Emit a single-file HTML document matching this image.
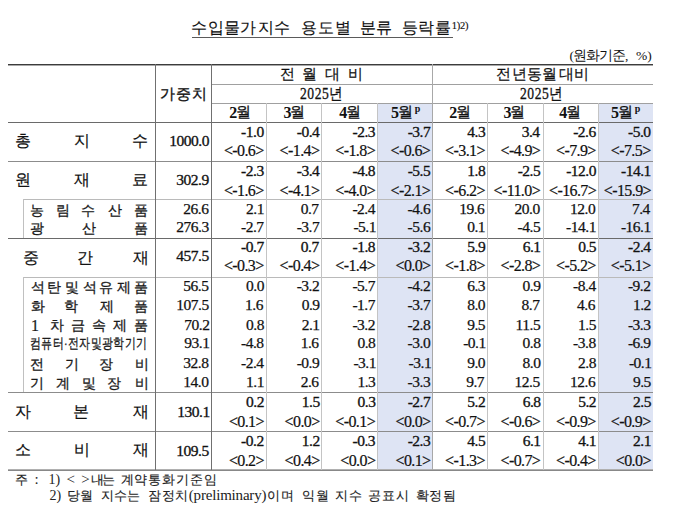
<!DOCTYPE html>
<html lang="ko"><head><meta charset="utf-8">
<style>
html,body{margin:0;padding:0;background:#fff;}
body{width:680px;height:512px;overflow:hidden;position:relative;}
</style></head><body>
<div style="position:absolute;left:377px;top:103px;width:55px;height:367px;background:#dee4f4"></div>
<div style="position:absolute;left:598px;top:103px;width:55px;height:367px;background:#dee4f4"></div>
<div style="position:absolute;left:192px;top:37px;width:261px;height:1px;background:#5a5a5a"></div>
<div style="position:absolute;left:8px;top:64px;width:645px;height:1px;background:#3c3c3c"></div>
<div style="position:absolute;left:8px;top:65px;width:645px;height:1px;background:#a8a8a8"></div>
<div style="position:absolute;left:212px;top:84px;width:441px;height:1px;background:#a0a0a0"></div>
<div style="position:absolute;left:212px;top:103px;width:441px;height:1px;background:#a0a0a0"></div>
<div style="position:absolute;left:8px;top:122px;width:645px;height:1px;background:#6a6a6a"></div>
<div style="position:absolute;left:8px;top:161px;width:645px;height:1px;background:#8c8c8c"></div>
<div style="position:absolute;left:23px;top:199px;width:630px;height:1px;background:#bababa"></div>
<div style="position:absolute;left:8px;top:238px;width:645px;height:1px;background:#6a6a6a"></div>
<div style="position:absolute;left:23px;top:277px;width:630px;height:1px;background:#bababa"></div>
<div style="position:absolute;left:8px;top:392px;width:645px;height:1px;background:#8c8c8c"></div>
<div style="position:absolute;left:8px;top:431px;width:645px;height:1px;background:#8c8c8c"></div>
<div style="position:absolute;left:8px;top:469px;width:645px;height:1px;background:#b0b0b0"></div>
<div style="position:absolute;left:8px;top:470px;width:645px;height:1px;background:#888888"></div>
<div style="position:absolute;left:155px;top:64px;width:1px;height:406px;background:#707070"></div>
<div style="position:absolute;left:211px;top:64px;width:1px;height:406px;background:#707070"></div>
<div style="position:absolute;left:432px;top:64px;width:1px;height:406px;background:#a8a8a8"></div>
<div style="position:absolute;left:266px;top:103px;width:1px;height:367px;background:#c4c4c4"></div>
<div style="position:absolute;left:321px;top:103px;width:1px;height:367px;background:#c4c4c4"></div>
<div style="position:absolute;left:377px;top:103px;width:1px;height:367px;background:#c4c4c4"></div>
<div style="position:absolute;left:487px;top:103px;width:1px;height:367px;background:#c4c4c4"></div>
<div style="position:absolute;left:543px;top:103px;width:1px;height:367px;background:#c4c4c4"></div>
<div style="position:absolute;left:598px;top:103px;width:1px;height:367px;background:#c4c4c4"></div>
<div style="position:absolute;left:23px;top:199px;width:1px;height:39px;background:#c0c0c0"></div>
<div style="position:absolute;left:23px;top:277px;width:1px;height:115px;background:#c0c0c0"></div>
<div style='position:absolute;white-space:nowrap;line-height:1;font-family:"Liberation Serif",serif;left:191.30px;top:20.30px;font-size:16px;color:#111;-webkit-text-stroke:0.15px #111;'>수</div>
<div style='position:absolute;white-space:nowrap;line-height:1;font-family:"Liberation Serif",serif;left:208.38px;top:20.30px;font-size:16px;color:#111;-webkit-text-stroke:0.15px #111;'>입</div>
<div style='position:absolute;white-space:nowrap;line-height:1;font-family:"Liberation Serif",serif;left:224.26px;top:20.30px;font-size:16px;color:#111;-webkit-text-stroke:0.15px #111;'>물</div>
<div style='position:absolute;white-space:nowrap;line-height:1;font-family:"Liberation Serif",serif;left:240.14px;top:20.30px;font-size:16px;color:#111;-webkit-text-stroke:0.15px #111;'>가</div>
<div style='position:absolute;white-space:nowrap;line-height:1;font-family:"Liberation Serif",serif;left:257.52px;top:20.30px;font-size:16px;color:#111;-webkit-text-stroke:0.15px #111;'>지</div>
<div style='position:absolute;white-space:nowrap;line-height:1;font-family:"Liberation Serif",serif;left:273.60px;top:20.30px;font-size:16px;color:#111;-webkit-text-stroke:0.15px #111;'>수</div>
<div style='position:absolute;white-space:nowrap;line-height:1;font-family:"Liberation Serif",serif;left:301.30px;top:20.30px;font-size:16px;color:#111;-webkit-text-stroke:0.15px #111;'>용</div>
<div style='position:absolute;white-space:nowrap;line-height:1;font-family:"Liberation Serif",serif;left:317.75px;top:20.30px;font-size:16px;color:#111;-webkit-text-stroke:0.15px #111;'>도</div>
<div style='position:absolute;white-space:nowrap;line-height:1;font-family:"Liberation Serif",serif;left:335.20px;top:20.30px;font-size:16px;color:#111;-webkit-text-stroke:0.15px #111;'>별</div>
<div style='position:absolute;white-space:nowrap;line-height:1;font-family:"Liberation Serif",serif;left:359.50px;top:20.30px;font-size:16px;color:#111;-webkit-text-stroke:0.15px #111;'>분</div>
<div style='position:absolute;white-space:nowrap;line-height:1;font-family:"Liberation Serif",serif;left:375.50px;top:20.30px;font-size:16px;color:#111;-webkit-text-stroke:0.15px #111;'>류</div>
<div style='position:absolute;white-space:nowrap;line-height:1;font-family:"Liberation Serif",serif;left:402.20px;top:20.30px;font-size:16px;color:#111;-webkit-text-stroke:0.15px #111;'>등</div>
<div style='position:absolute;white-space:nowrap;line-height:1;font-family:"Liberation Serif",serif;left:418.25px;top:20.30px;font-size:16px;color:#111;-webkit-text-stroke:0.15px #111;'>락</div>
<div style='position:absolute;white-space:nowrap;line-height:1;font-family:"Liberation Serif",serif;left:435.30px;top:20.30px;font-size:16px;color:#111;-webkit-text-stroke:0.15px #111;'>률</div>
<div style='position:absolute;white-space:nowrap;line-height:1;font-family:"Liberation Serif",serif;left:451.80px;top:21.20px;font-size:10.5px;color:#111;-webkit-text-stroke:0.15px #111;letter-spacing:-0.267px;'>1)2)</div>
<div style='position:absolute;white-space:nowrap;line-height:1;font-family:"Liberation Serif",serif;left:569.60px;top:49.00px;font-size:13.5px;color:#111;letter-spacing:-1.000px;'>(원화기준,</div>
<div style='position:absolute;white-space:nowrap;line-height:1;font-family:"Liberation Serif",serif;left:635.90px;top:49.00px;font-size:13.5px;color:#111;'>%)</div>
<div style='position:absolute;white-space:nowrap;line-height:1;font-family:"Liberation Serif",serif;left:159.60px;top:86.70px;font-size:15px;letter-spacing:1px;color:#111;-webkit-text-stroke:0.35px #111;'>가중치</div>
<div style='position:absolute;white-space:nowrap;line-height:1;font-family:"Liberation Serif",serif;left:280.30px;top:66.80px;font-size:15px;color:#111;-webkit-text-stroke:0.2px #111;'>전</div>
<div style='position:absolute;white-space:nowrap;line-height:1;font-family:"Liberation Serif",serif;left:302.48px;top:66.80px;font-size:15px;color:#111;-webkit-text-stroke:0.2px #111;'>월</div>
<div style='position:absolute;white-space:nowrap;line-height:1;font-family:"Liberation Serif",serif;left:325.42px;top:66.80px;font-size:15px;color:#111;-webkit-text-stroke:0.2px #111;'>대</div>
<div style='position:absolute;white-space:nowrap;line-height:1;font-family:"Liberation Serif",serif;left:347.60px;top:66.80px;font-size:15px;color:#111;-webkit-text-stroke:0.2px #111;'>비</div>
<div style='position:absolute;white-space:nowrap;line-height:1;font-family:"Liberation Serif",serif;left:496.30px;top:66.80px;font-size:15px;color:#111;-webkit-text-stroke:0.2px #111;'>전</div>
<div style='position:absolute;white-space:nowrap;line-height:1;font-family:"Liberation Serif",serif;left:511.79px;top:66.80px;font-size:15px;color:#111;-webkit-text-stroke:0.2px #111;'>년</div>
<div style='position:absolute;white-space:nowrap;line-height:1;font-family:"Liberation Serif",serif;left:527.03px;top:66.80px;font-size:15px;color:#111;-webkit-text-stroke:0.2px #111;'>동</div>
<div style='position:absolute;white-space:nowrap;line-height:1;font-family:"Liberation Serif",serif;left:542.27px;top:66.80px;font-size:15px;color:#111;-webkit-text-stroke:0.2px #111;'>월</div>
<div style='position:absolute;white-space:nowrap;line-height:1;font-family:"Liberation Serif",serif;left:558.51px;top:66.80px;font-size:15px;color:#111;-webkit-text-stroke:0.2px #111;'>대</div>
<div style='position:absolute;white-space:nowrap;line-height:1;font-family:"Liberation Serif",serif;left:574.00px;top:66.80px;font-size:15px;color:#111;-webkit-text-stroke:0.2px #111;'>비</div>
<div style='position:absolute;white-space:nowrap;line-height:1;font-family:"Liberation Serif",serif;left:300.00px;top:85.60px;font-size:16px;color:#111;-webkit-text-stroke:0.3px #111;transform:scaleX(0.85);transform-origin:0 0;letter-spacing:0.647px;'>2025년</div>
<div style='position:absolute;white-space:nowrap;line-height:1;font-family:"Liberation Serif",serif;left:520.00px;top:85.60px;font-size:16px;color:#111;-webkit-text-stroke:0.3px #111;transform:scaleX(0.85);transform-origin:0 0;letter-spacing:0.647px;'>2025년</div>
<div style='position:absolute;white-space:nowrap;line-height:1;font-family:"Liberation Serif",serif;left:229.30px;top:105.10px;font-size:16px;font-weight:bold;color:#111;'>2</div>
<div style='position:absolute;white-space:nowrap;line-height:1;font-family:"Liberation Serif",serif;left:235.70px;top:105.10px;font-size:14.5px;color:#111;-webkit-text-stroke:0.3px #111;'>월</div>
<div style='position:absolute;white-space:nowrap;line-height:1;font-family:"Liberation Serif",serif;left:283.50px;top:105.10px;font-size:16px;font-weight:bold;color:#111;'>3</div>
<div style='position:absolute;white-space:nowrap;line-height:1;font-family:"Liberation Serif",serif;left:289.90px;top:105.10px;font-size:14.5px;color:#111;-webkit-text-stroke:0.3px #111;'>월</div>
<div style='position:absolute;white-space:nowrap;line-height:1;font-family:"Liberation Serif",serif;left:339.30px;top:105.10px;font-size:16px;font-weight:bold;color:#111;'>4</div>
<div style='position:absolute;white-space:nowrap;line-height:1;font-family:"Liberation Serif",serif;left:345.70px;top:105.10px;font-size:14.5px;color:#111;-webkit-text-stroke:0.3px #111;'>월</div>
<div style='position:absolute;white-space:nowrap;line-height:1;font-family:"Liberation Serif",serif;left:391.10px;top:105.10px;font-size:16px;font-weight:bold;color:#111;'>5</div>
<div style='position:absolute;white-space:nowrap;line-height:1;font-family:"Liberation Serif",serif;left:397.50px;top:105.10px;font-size:14.5px;color:#111;-webkit-text-stroke:0.3px #111;'>월</div>
<div style='position:absolute;white-space:nowrap;line-height:1;font-family:"Liberation Serif",serif;left:449.30px;top:105.10px;font-size:16px;font-weight:bold;color:#111;'>2</div>
<div style='position:absolute;white-space:nowrap;line-height:1;font-family:"Liberation Serif",serif;left:455.70px;top:105.10px;font-size:14.5px;color:#111;-webkit-text-stroke:0.3px #111;'>월</div>
<div style='position:absolute;white-space:nowrap;line-height:1;font-family:"Liberation Serif",serif;left:503.50px;top:105.10px;font-size:16px;font-weight:bold;color:#111;'>3</div>
<div style='position:absolute;white-space:nowrap;line-height:1;font-family:"Liberation Serif",serif;left:509.90px;top:105.10px;font-size:14.5px;color:#111;-webkit-text-stroke:0.3px #111;'>월</div>
<div style='position:absolute;white-space:nowrap;line-height:1;font-family:"Liberation Serif",serif;left:559.30px;top:105.10px;font-size:16px;font-weight:bold;color:#111;'>4</div>
<div style='position:absolute;white-space:nowrap;line-height:1;font-family:"Liberation Serif",serif;left:565.70px;top:105.10px;font-size:14.5px;color:#111;-webkit-text-stroke:0.3px #111;'>월</div>
<div style='position:absolute;white-space:nowrap;line-height:1;font-family:"Liberation Serif",serif;left:611.10px;top:105.10px;font-size:16px;font-weight:bold;color:#111;'>5</div>
<div style='position:absolute;white-space:nowrap;line-height:1;font-family:"Liberation Serif",serif;left:617.50px;top:105.10px;font-size:14.5px;color:#111;-webkit-text-stroke:0.3px #111;'>월</div>
<div style='position:absolute;white-space:nowrap;line-height:1;font-family:"Liberation Serif",serif;left:414.80px;top:104.40px;font-size:10px;font-weight:bold;color:#111;'>p</div>
<div style='position:absolute;white-space:nowrap;line-height:1;font-family:"Liberation Serif",serif;left:634.80px;top:104.40px;font-size:10px;font-weight:bold;color:#111;'>p</div>
<div style='position:absolute;white-space:nowrap;line-height:1;font-family:"Liberation Serif",serif;left:15.00px;top:133.00px;font-size:15.5px;color:#111;-webkit-text-stroke:0.2px #111;'>총</div>
<div style='position:absolute;white-space:nowrap;line-height:1;font-family:"Liberation Serif",serif;left:73.75px;top:133.00px;font-size:15.5px;color:#111;-webkit-text-stroke:0.2px #111;'>지</div>
<div style='position:absolute;white-space:nowrap;line-height:1;font-family:"Liberation Serif",serif;left:131.50px;top:133.00px;font-size:15.5px;color:#111;-webkit-text-stroke:0.2px #111;'>수</div>
<div style='position:absolute;white-space:nowrap;line-height:1;font-family:"Liberation Serif",serif;left:169.30px;top:133.30px;font-size:15.5px;letter-spacing:-0.5px;color:#111;-webkit-text-stroke:0.32px #111;'>1000.0</div>
<div style='position:absolute;white-space:nowrap;line-height:1;font-family:"Liberation Serif",serif;left:241.10px;top:124.20px;font-size:15.5px;letter-spacing:-0.5px;color:#111;-webkit-text-stroke:0.32px #111;'>-1.0</div>
<div style='position:absolute;white-space:nowrap;line-height:1;font-family:"Liberation Serif",serif;left:223.90px;top:142.80px;font-size:16px;letter-spacing:-0.6px;color:#111;-webkit-text-stroke:0.2px #111;'>&lt;-0.6&gt;</div>
<div style='position:absolute;white-space:nowrap;line-height:1;font-family:"Liberation Serif",serif;left:296.80px;top:124.20px;font-size:15.5px;letter-spacing:-0.5px;color:#111;-webkit-text-stroke:0.32px #111;'>-0.4</div>
<div style='position:absolute;white-space:nowrap;line-height:1;font-family:"Liberation Serif",serif;left:279.60px;top:142.80px;font-size:16px;letter-spacing:-0.6px;color:#111;-webkit-text-stroke:0.2px #111;'>&lt;-1.4&gt;</div>
<div style='position:absolute;white-space:nowrap;line-height:1;font-family:"Liberation Serif",serif;left:352.50px;top:124.20px;font-size:15.5px;letter-spacing:-0.5px;color:#111;-webkit-text-stroke:0.32px #111;'>-2.3</div>
<div style='position:absolute;white-space:nowrap;line-height:1;font-family:"Liberation Serif",serif;left:335.30px;top:142.80px;font-size:16px;letter-spacing:-0.6px;color:#111;-webkit-text-stroke:0.2px #111;'>&lt;-1.8&gt;</div>
<div style='position:absolute;white-space:nowrap;line-height:1;font-family:"Liberation Serif",serif;left:407.70px;top:124.20px;font-size:15.5px;letter-spacing:-0.5px;color:#111;-webkit-text-stroke:0.32px #111;'>-3.7</div>
<div style='position:absolute;white-space:nowrap;line-height:1;font-family:"Liberation Serif",serif;left:390.50px;top:142.80px;font-size:16px;letter-spacing:-0.6px;color:#111;-webkit-text-stroke:0.2px #111;'>&lt;-0.6&gt;</div>
<div style='position:absolute;white-space:nowrap;line-height:1;font-family:"Liberation Serif",serif;left:467.30px;top:124.20px;font-size:15.5px;letter-spacing:-0.5px;color:#111;-webkit-text-stroke:0.32px #111;'>4.3</div>
<div style='position:absolute;white-space:nowrap;line-height:1;font-family:"Liberation Serif",serif;left:445.10px;top:142.80px;font-size:16px;letter-spacing:-0.6px;color:#111;-webkit-text-stroke:0.2px #111;'>&lt;-3.1&gt;</div>
<div style='position:absolute;white-space:nowrap;line-height:1;font-family:"Liberation Serif",serif;left:521.70px;top:124.20px;font-size:15.5px;letter-spacing:-0.5px;color:#111;-webkit-text-stroke:0.32px #111;'>3.4</div>
<div style='position:absolute;white-space:nowrap;line-height:1;font-family:"Liberation Serif",serif;left:500.50px;top:142.80px;font-size:16px;letter-spacing:-0.6px;color:#111;-webkit-text-stroke:0.2px #111;'>&lt;-4.9&gt;</div>
<div style='position:absolute;white-space:nowrap;line-height:1;font-family:"Liberation Serif",serif;left:573.20px;top:124.20px;font-size:15.5px;letter-spacing:-0.5px;color:#111;-webkit-text-stroke:0.32px #111;'>-2.6</div>
<div style='position:absolute;white-space:nowrap;line-height:1;font-family:"Liberation Serif",serif;left:556.00px;top:142.80px;font-size:16px;letter-spacing:-0.6px;color:#111;-webkit-text-stroke:0.2px #111;'>&lt;-7.9&gt;</div>
<div style='position:absolute;white-space:nowrap;line-height:1;font-family:"Liberation Serif",serif;left:628.00px;top:124.20px;font-size:15.5px;letter-spacing:-0.5px;color:#111;-webkit-text-stroke:0.32px #111;'>-5.0</div>
<div style='position:absolute;white-space:nowrap;line-height:1;font-family:"Liberation Serif",serif;left:610.80px;top:142.80px;font-size:16px;letter-spacing:-0.6px;color:#111;-webkit-text-stroke:0.2px #111;'>&lt;-7.5&gt;</div>
<div style='position:absolute;white-space:nowrap;line-height:1;font-family:"Liberation Serif",serif;left:15.00px;top:171.50px;font-size:15.5px;color:#111;-webkit-text-stroke:0.2px #111;'>원</div>
<div style='position:absolute;white-space:nowrap;line-height:1;font-family:"Liberation Serif",serif;left:74.25px;top:171.50px;font-size:15.5px;color:#111;-webkit-text-stroke:0.2px #111;'>재</div>
<div style='position:absolute;white-space:nowrap;line-height:1;font-family:"Liberation Serif",serif;left:131.50px;top:171.50px;font-size:15.5px;color:#111;-webkit-text-stroke:0.2px #111;'>료</div>
<div style='position:absolute;white-space:nowrap;line-height:1;font-family:"Liberation Serif",serif;left:176.30px;top:172.30px;font-size:15.5px;letter-spacing:-0.5px;color:#111;-webkit-text-stroke:0.32px #111;'>302.9</div>
<div style='position:absolute;white-space:nowrap;line-height:1;font-family:"Liberation Serif",serif;left:241.10px;top:162.50px;font-size:15.5px;letter-spacing:-0.5px;color:#111;-webkit-text-stroke:0.32px #111;'>-2.3</div>
<div style='position:absolute;white-space:nowrap;line-height:1;font-family:"Liberation Serif",serif;left:223.90px;top:182.80px;font-size:16px;letter-spacing:-0.6px;color:#111;-webkit-text-stroke:0.2px #111;'>&lt;-1.6&gt;</div>
<div style='position:absolute;white-space:nowrap;line-height:1;font-family:"Liberation Serif",serif;left:296.80px;top:162.50px;font-size:15.5px;letter-spacing:-0.5px;color:#111;-webkit-text-stroke:0.32px #111;'>-3.4</div>
<div style='position:absolute;white-space:nowrap;line-height:1;font-family:"Liberation Serif",serif;left:279.60px;top:182.80px;font-size:16px;letter-spacing:-0.6px;color:#111;-webkit-text-stroke:0.2px #111;'>&lt;-4.1&gt;</div>
<div style='position:absolute;white-space:nowrap;line-height:1;font-family:"Liberation Serif",serif;left:352.50px;top:162.50px;font-size:15.5px;letter-spacing:-0.5px;color:#111;-webkit-text-stroke:0.32px #111;'>-4.8</div>
<div style='position:absolute;white-space:nowrap;line-height:1;font-family:"Liberation Serif",serif;left:335.30px;top:182.80px;font-size:16px;letter-spacing:-0.6px;color:#111;-webkit-text-stroke:0.2px #111;'>&lt;-4.0&gt;</div>
<div style='position:absolute;white-space:nowrap;line-height:1;font-family:"Liberation Serif",serif;left:407.70px;top:162.50px;font-size:15.5px;letter-spacing:-0.5px;color:#111;-webkit-text-stroke:0.32px #111;'>-5.5</div>
<div style='position:absolute;white-space:nowrap;line-height:1;font-family:"Liberation Serif",serif;left:390.50px;top:182.80px;font-size:16px;letter-spacing:-0.6px;color:#111;-webkit-text-stroke:0.2px #111;'>&lt;-2.1&gt;</div>
<div style='position:absolute;white-space:nowrap;line-height:1;font-family:"Liberation Serif",serif;left:467.30px;top:162.50px;font-size:15.5px;letter-spacing:-0.5px;color:#111;-webkit-text-stroke:0.32px #111;'>1.8</div>
<div style='position:absolute;white-space:nowrap;line-height:1;font-family:"Liberation Serif",serif;left:445.10px;top:182.80px;font-size:16px;letter-spacing:-0.6px;color:#111;-webkit-text-stroke:0.2px #111;'>&lt;-6.2&gt;</div>
<div style='position:absolute;white-space:nowrap;line-height:1;font-family:"Liberation Serif",serif;left:517.70px;top:162.50px;font-size:15.5px;letter-spacing:-0.5px;color:#111;-webkit-text-stroke:0.32px #111;'>-2.5</div>
<div style='position:absolute;white-space:nowrap;line-height:1;font-family:"Liberation Serif",serif;left:493.50px;top:182.80px;font-size:16px;letter-spacing:-0.6px;color:#111;-webkit-text-stroke:0.2px #111;'>&lt;-11.0&gt;</div>
<div style='position:absolute;white-space:nowrap;line-height:1;font-family:"Liberation Serif",serif;left:566.20px;top:162.50px;font-size:15.5px;letter-spacing:-0.5px;color:#111;-webkit-text-stroke:0.32px #111;'>-12.0</div>
<div style='position:absolute;white-space:nowrap;line-height:1;font-family:"Liberation Serif",serif;left:549.00px;top:182.80px;font-size:16px;letter-spacing:-0.6px;color:#111;-webkit-text-stroke:0.2px #111;'>&lt;-16.7&gt;</div>
<div style='position:absolute;white-space:nowrap;line-height:1;font-family:"Liberation Serif",serif;left:621.00px;top:162.50px;font-size:15.5px;letter-spacing:-0.5px;color:#111;-webkit-text-stroke:0.32px #111;'>-14.1</div>
<div style='position:absolute;white-space:nowrap;line-height:1;font-family:"Liberation Serif",serif;left:603.80px;top:182.80px;font-size:16px;letter-spacing:-0.6px;color:#111;-webkit-text-stroke:0.2px #111;'>&lt;-15.9&gt;</div>
<div style='position:absolute;white-space:nowrap;line-height:1;font-family:"Liberation Serif",serif;left:30.00px;top:204.00px;font-size:13.5px;color:#1a1a1a;-webkit-text-stroke:0.3px #1a1a1a;'>농</div>
<div style='position:absolute;white-space:nowrap;line-height:1;font-family:"Liberation Serif",serif;left:56.44px;top:204.00px;font-size:13.5px;color:#1a1a1a;-webkit-text-stroke:0.3px #1a1a1a;'>림</div>
<div style='position:absolute;white-space:nowrap;line-height:1;font-family:"Liberation Serif",serif;left:81.30px;top:204.00px;font-size:13.5px;color:#1a1a1a;-webkit-text-stroke:0.3px #1a1a1a;'>수</div>
<div style='position:absolute;white-space:nowrap;line-height:1;font-family:"Liberation Serif",serif;left:107.66px;top:204.00px;font-size:13.5px;color:#1a1a1a;-webkit-text-stroke:0.3px #1a1a1a;'>산</div>
<div style='position:absolute;white-space:nowrap;line-height:1;font-family:"Liberation Serif",serif;left:133.60px;top:204.00px;font-size:13.5px;color:#1a1a1a;-webkit-text-stroke:0.3px #1a1a1a;'>품</div>
<div style='position:absolute;white-space:nowrap;line-height:1;font-family:"Liberation Serif",serif;left:183.30px;top:200.60px;font-size:15.5px;letter-spacing:-0.5px;color:#111;-webkit-text-stroke:0.25px #111;'>26.6</div>
<div style='position:absolute;white-space:nowrap;line-height:1;font-family:"Liberation Serif",serif;left:246.00px;top:200.60px;font-size:15.5px;letter-spacing:-0.5px;color:#111;-webkit-text-stroke:0.25px #111;'>2.1</div>
<div style='position:absolute;white-space:nowrap;line-height:1;font-family:"Liberation Serif",serif;left:300.70px;top:200.60px;font-size:15.5px;letter-spacing:-0.5px;color:#111;-webkit-text-stroke:0.25px #111;'>0.7</div>
<div style='position:absolute;white-space:nowrap;line-height:1;font-family:"Liberation Serif",serif;left:352.40px;top:200.60px;font-size:15.5px;letter-spacing:-0.5px;color:#111;-webkit-text-stroke:0.25px #111;'>-2.4</div>
<div style='position:absolute;white-space:nowrap;line-height:1;font-family:"Liberation Serif",serif;left:407.60px;top:200.60px;font-size:15.5px;letter-spacing:-0.5px;color:#111;-webkit-text-stroke:0.25px #111;'>-4.6</div>
<div style='position:absolute;white-space:nowrap;line-height:1;font-family:"Liberation Serif",serif;left:459.20px;top:200.60px;font-size:15.5px;letter-spacing:-0.5px;color:#111;-webkit-text-stroke:0.25px #111;'>19.6</div>
<div style='position:absolute;white-space:nowrap;line-height:1;font-family:"Liberation Serif",serif;left:514.60px;top:200.60px;font-size:15.5px;letter-spacing:-0.5px;color:#111;-webkit-text-stroke:0.25px #111;'>20.0</div>
<div style='position:absolute;white-space:nowrap;line-height:1;font-family:"Liberation Serif",serif;left:570.10px;top:200.60px;font-size:15.5px;letter-spacing:-0.5px;color:#111;-webkit-text-stroke:0.25px #111;'>12.0</div>
<div style='position:absolute;white-space:nowrap;line-height:1;font-family:"Liberation Serif",serif;left:631.90px;top:200.60px;font-size:15.5px;letter-spacing:-0.5px;color:#111;-webkit-text-stroke:0.25px #111;'>7.4</div>
<div style='position:absolute;white-space:nowrap;line-height:1;font-family:"Liberation Serif",serif;left:30.00px;top:222.30px;font-size:13.5px;color:#1a1a1a;-webkit-text-stroke:0.3px #1a1a1a;'>광</div>
<div style='position:absolute;white-space:nowrap;line-height:1;font-family:"Liberation Serif",serif;left:81.80px;top:222.30px;font-size:13.5px;color:#1a1a1a;-webkit-text-stroke:0.3px #1a1a1a;'>산</div>
<div style='position:absolute;white-space:nowrap;line-height:1;font-family:"Liberation Serif",serif;left:133.60px;top:222.30px;font-size:13.5px;color:#1a1a1a;-webkit-text-stroke:0.3px #1a1a1a;'>품</div>
<div style='position:absolute;white-space:nowrap;line-height:1;font-family:"Liberation Serif",serif;left:176.30px;top:219.20px;font-size:15.5px;letter-spacing:-0.5px;color:#111;-webkit-text-stroke:0.25px #111;'>276.3</div>
<div style='position:absolute;white-space:nowrap;line-height:1;font-family:"Liberation Serif",serif;left:241.00px;top:219.20px;font-size:15.5px;letter-spacing:-0.5px;color:#111;-webkit-text-stroke:0.25px #111;'>-2.7</div>
<div style='position:absolute;white-space:nowrap;line-height:1;font-family:"Liberation Serif",serif;left:296.70px;top:219.20px;font-size:15.5px;letter-spacing:-0.5px;color:#111;-webkit-text-stroke:0.25px #111;'>-3.7</div>
<div style='position:absolute;white-space:nowrap;line-height:1;font-family:"Liberation Serif",serif;left:353.40px;top:219.20px;font-size:15.5px;letter-spacing:-0.5px;color:#111;-webkit-text-stroke:0.25px #111;'>-5.1</div>
<div style='position:absolute;white-space:nowrap;line-height:1;font-family:"Liberation Serif",serif;left:407.60px;top:219.20px;font-size:15.5px;letter-spacing:-0.5px;color:#111;-webkit-text-stroke:0.25px #111;'>-5.6</div>
<div style='position:absolute;white-space:nowrap;line-height:1;font-family:"Liberation Serif",serif;left:467.20px;top:219.20px;font-size:15.5px;letter-spacing:-0.5px;color:#111;-webkit-text-stroke:0.25px #111;'>0.1</div>
<div style='position:absolute;white-space:nowrap;line-height:1;font-family:"Liberation Serif",serif;left:517.60px;top:219.20px;font-size:15.5px;letter-spacing:-0.5px;color:#111;-webkit-text-stroke:0.25px #111;'>-4.5</div>
<div style='position:absolute;white-space:nowrap;line-height:1;font-family:"Liberation Serif",serif;left:566.10px;top:219.20px;font-size:15.5px;letter-spacing:-0.5px;color:#111;-webkit-text-stroke:0.25px #111;'>-14.1</div>
<div style='position:absolute;white-space:nowrap;line-height:1;font-family:"Liberation Serif",serif;left:620.90px;top:219.20px;font-size:15.5px;letter-spacing:-0.5px;color:#111;-webkit-text-stroke:0.25px #111;'>-16.1</div>
<div style='position:absolute;white-space:nowrap;line-height:1;font-family:"Liberation Serif",serif;left:23.00px;top:249.50px;font-size:15.5px;color:#111;-webkit-text-stroke:0.2px #111;'>중</div>
<div style='position:absolute;white-space:nowrap;line-height:1;font-family:"Liberation Serif",serif;left:76.75px;top:249.50px;font-size:15.5px;color:#111;-webkit-text-stroke:0.2px #111;'>간</div>
<div style='position:absolute;white-space:nowrap;line-height:1;font-family:"Liberation Serif",serif;left:132.50px;top:249.50px;font-size:15.5px;color:#111;-webkit-text-stroke:0.2px #111;'>재</div>
<div style='position:absolute;white-space:nowrap;line-height:1;font-family:"Liberation Serif",serif;left:176.30px;top:248.00px;font-size:15.5px;letter-spacing:-0.5px;color:#111;-webkit-text-stroke:0.32px #111;'>457.5</div>
<div style='position:absolute;white-space:nowrap;line-height:1;font-family:"Liberation Serif",serif;left:241.10px;top:238.60px;font-size:15.5px;letter-spacing:-0.5px;color:#111;-webkit-text-stroke:0.32px #111;'>-0.7</div>
<div style='position:absolute;white-space:nowrap;line-height:1;font-family:"Liberation Serif",serif;left:223.90px;top:258.30px;font-size:16px;letter-spacing:-0.6px;color:#111;-webkit-text-stroke:0.2px #111;'>&lt;-0.3&gt;</div>
<div style='position:absolute;white-space:nowrap;line-height:1;font-family:"Liberation Serif",serif;left:300.80px;top:238.60px;font-size:15.5px;letter-spacing:-0.5px;color:#111;-webkit-text-stroke:0.32px #111;'>0.7</div>
<div style='position:absolute;white-space:nowrap;line-height:1;font-family:"Liberation Serif",serif;left:279.60px;top:258.30px;font-size:16px;letter-spacing:-0.6px;color:#111;-webkit-text-stroke:0.2px #111;'>&lt;-0.4&gt;</div>
<div style='position:absolute;white-space:nowrap;line-height:1;font-family:"Liberation Serif",serif;left:352.50px;top:238.60px;font-size:15.5px;letter-spacing:-0.5px;color:#111;-webkit-text-stroke:0.32px #111;'>-1.8</div>
<div style='position:absolute;white-space:nowrap;line-height:1;font-family:"Liberation Serif",serif;left:335.30px;top:258.30px;font-size:16px;letter-spacing:-0.6px;color:#111;-webkit-text-stroke:0.2px #111;'>&lt;-1.4&gt;</div>
<div style='position:absolute;white-space:nowrap;line-height:1;font-family:"Liberation Serif",serif;left:407.70px;top:238.60px;font-size:15.5px;letter-spacing:-0.5px;color:#111;-webkit-text-stroke:0.32px #111;'>-3.2</div>
<div style='position:absolute;white-space:nowrap;line-height:1;font-family:"Liberation Serif",serif;left:395.50px;top:258.30px;font-size:16px;letter-spacing:-0.6px;color:#111;-webkit-text-stroke:0.2px #111;'>&lt;0.0&gt;</div>
<div style='position:absolute;white-space:nowrap;line-height:1;font-family:"Liberation Serif",serif;left:467.30px;top:238.60px;font-size:15.5px;letter-spacing:-0.5px;color:#111;-webkit-text-stroke:0.32px #111;'>5.9</div>
<div style='position:absolute;white-space:nowrap;line-height:1;font-family:"Liberation Serif",serif;left:445.10px;top:258.30px;font-size:16px;letter-spacing:-0.6px;color:#111;-webkit-text-stroke:0.2px #111;'>&lt;-1.8&gt;</div>
<div style='position:absolute;white-space:nowrap;line-height:1;font-family:"Liberation Serif",serif;left:522.70px;top:238.60px;font-size:15.5px;letter-spacing:-0.5px;color:#111;-webkit-text-stroke:0.32px #111;'>6.1</div>
<div style='position:absolute;white-space:nowrap;line-height:1;font-family:"Liberation Serif",serif;left:500.50px;top:258.30px;font-size:16px;letter-spacing:-0.6px;color:#111;-webkit-text-stroke:0.2px #111;'>&lt;-2.8&gt;</div>
<div style='position:absolute;white-space:nowrap;line-height:1;font-family:"Liberation Serif",serif;left:578.20px;top:238.60px;font-size:15.5px;letter-spacing:-0.5px;color:#111;-webkit-text-stroke:0.32px #111;'>0.5</div>
<div style='position:absolute;white-space:nowrap;line-height:1;font-family:"Liberation Serif",serif;left:556.00px;top:258.30px;font-size:16px;letter-spacing:-0.6px;color:#111;-webkit-text-stroke:0.2px #111;'>&lt;-5.2&gt;</div>
<div style='position:absolute;white-space:nowrap;line-height:1;font-family:"Liberation Serif",serif;left:628.00px;top:238.60px;font-size:15.5px;letter-spacing:-0.5px;color:#111;-webkit-text-stroke:0.32px #111;'>-2.4</div>
<div style='position:absolute;white-space:nowrap;line-height:1;font-family:"Liberation Serif",serif;left:610.80px;top:258.30px;font-size:16px;letter-spacing:-0.6px;color:#111;-webkit-text-stroke:0.2px #111;'>&lt;-5.1&gt;</div>
<div style='position:absolute;white-space:nowrap;line-height:1;font-family:"Liberation Serif",serif;left:31.00px;top:281.10px;font-size:13.5px;color:#1a1a1a;-webkit-text-stroke:0.3px #1a1a1a;'>석</div>
<div style='position:absolute;white-space:nowrap;line-height:1;font-family:"Liberation Serif",serif;left:46.82px;top:281.10px;font-size:13.5px;color:#1a1a1a;-webkit-text-stroke:0.3px #1a1a1a;'>탄</div>
<div style='position:absolute;white-space:nowrap;line-height:1;font-family:"Liberation Serif",serif;left:64.56px;top:281.10px;font-size:13.5px;color:#1a1a1a;-webkit-text-stroke:0.3px #1a1a1a;'>및</div>
<div style='position:absolute;white-space:nowrap;line-height:1;font-family:"Liberation Serif",serif;left:82.80px;top:281.10px;font-size:13.5px;color:#1a1a1a;-webkit-text-stroke:0.3px #1a1a1a;'>석</div>
<div style='position:absolute;white-space:nowrap;line-height:1;font-family:"Liberation Serif",serif;left:98.54px;top:281.10px;font-size:13.5px;color:#1a1a1a;-webkit-text-stroke:0.3px #1a1a1a;'>유</div>
<div style='position:absolute;white-space:nowrap;line-height:1;font-family:"Liberation Serif",serif;left:116.78px;top:281.10px;font-size:13.5px;color:#1a1a1a;-webkit-text-stroke:0.3px #1a1a1a;'>제</div>
<div style='position:absolute;white-space:nowrap;line-height:1;font-family:"Liberation Serif",serif;left:133.60px;top:281.10px;font-size:13.5px;color:#1a1a1a;-webkit-text-stroke:0.3px #1a1a1a;'>품</div>
<div style='position:absolute;white-space:nowrap;line-height:1;font-family:"Liberation Serif",serif;left:183.30px;top:278.40px;font-size:15.5px;letter-spacing:-0.5px;color:#111;-webkit-text-stroke:0.25px #111;'>56.5</div>
<div style='position:absolute;white-space:nowrap;line-height:1;font-family:"Liberation Serif",serif;left:246.00px;top:278.40px;font-size:15.5px;letter-spacing:-0.5px;color:#111;-webkit-text-stroke:0.25px #111;'>0.0</div>
<div style='position:absolute;white-space:nowrap;line-height:1;font-family:"Liberation Serif",serif;left:296.70px;top:278.40px;font-size:15.5px;letter-spacing:-0.5px;color:#111;-webkit-text-stroke:0.25px #111;'>-3.2</div>
<div style='position:absolute;white-space:nowrap;line-height:1;font-family:"Liberation Serif",serif;left:352.40px;top:278.40px;font-size:15.5px;letter-spacing:-0.5px;color:#111;-webkit-text-stroke:0.25px #111;'>-5.7</div>
<div style='position:absolute;white-space:nowrap;line-height:1;font-family:"Liberation Serif",serif;left:407.60px;top:278.40px;font-size:15.5px;letter-spacing:-0.5px;color:#111;-webkit-text-stroke:0.25px #111;'>-4.2</div>
<div style='position:absolute;white-space:nowrap;line-height:1;font-family:"Liberation Serif",serif;left:467.20px;top:278.40px;font-size:15.5px;letter-spacing:-0.5px;color:#111;-webkit-text-stroke:0.25px #111;'>6.3</div>
<div style='position:absolute;white-space:nowrap;line-height:1;font-family:"Liberation Serif",serif;left:522.60px;top:278.40px;font-size:15.5px;letter-spacing:-0.5px;color:#111;-webkit-text-stroke:0.25px #111;'>0.9</div>
<div style='position:absolute;white-space:nowrap;line-height:1;font-family:"Liberation Serif",serif;left:573.10px;top:278.40px;font-size:15.5px;letter-spacing:-0.5px;color:#111;-webkit-text-stroke:0.25px #111;'>-8.4</div>
<div style='position:absolute;white-space:nowrap;line-height:1;font-family:"Liberation Serif",serif;left:627.90px;top:278.40px;font-size:15.5px;letter-spacing:-0.5px;color:#111;-webkit-text-stroke:0.25px #111;'>-9.2</div>
<div style='position:absolute;white-space:nowrap;line-height:1;font-family:"Liberation Serif",serif;left:31.00px;top:299.50px;font-size:13.5px;color:#1a1a1a;-webkit-text-stroke:0.3px #1a1a1a;'>화</div>
<div style='position:absolute;white-space:nowrap;line-height:1;font-family:"Liberation Serif",serif;left:64.06px;top:299.50px;font-size:13.5px;color:#1a1a1a;-webkit-text-stroke:0.3px #1a1a1a;'>학</div>
<div style='position:absolute;white-space:nowrap;line-height:1;font-family:"Liberation Serif",serif;left:99.54px;top:299.50px;font-size:13.5px;color:#1a1a1a;-webkit-text-stroke:0.3px #1a1a1a;'>제</div>
<div style='position:absolute;white-space:nowrap;line-height:1;font-family:"Liberation Serif",serif;left:133.60px;top:299.50px;font-size:13.5px;color:#1a1a1a;-webkit-text-stroke:0.3px #1a1a1a;'>품</div>
<div style='position:absolute;white-space:nowrap;line-height:1;font-family:"Liberation Serif",serif;left:176.30px;top:297.40px;font-size:15.5px;letter-spacing:-0.5px;color:#111;-webkit-text-stroke:0.25px #111;'>107.5</div>
<div style='position:absolute;white-space:nowrap;line-height:1;font-family:"Liberation Serif",serif;left:245.00px;top:297.40px;font-size:15.5px;letter-spacing:-0.5px;color:#111;-webkit-text-stroke:0.25px #111;'>1.6</div>
<div style='position:absolute;white-space:nowrap;line-height:1;font-family:"Liberation Serif",serif;left:301.70px;top:297.40px;font-size:15.5px;letter-spacing:-0.5px;color:#111;-webkit-text-stroke:0.25px #111;'>0.9</div>
<div style='position:absolute;white-space:nowrap;line-height:1;font-family:"Liberation Serif",serif;left:352.40px;top:297.40px;font-size:15.5px;letter-spacing:-0.5px;color:#111;-webkit-text-stroke:0.25px #111;'>-1.7</div>
<div style='position:absolute;white-space:nowrap;line-height:1;font-family:"Liberation Serif",serif;left:407.60px;top:297.40px;font-size:15.5px;letter-spacing:-0.5px;color:#111;-webkit-text-stroke:0.25px #111;'>-3.7</div>
<div style='position:absolute;white-space:nowrap;line-height:1;font-family:"Liberation Serif",serif;left:467.20px;top:297.40px;font-size:15.5px;letter-spacing:-0.5px;color:#111;-webkit-text-stroke:0.25px #111;'>8.0</div>
<div style='position:absolute;white-space:nowrap;line-height:1;font-family:"Liberation Serif",serif;left:521.60px;top:297.40px;font-size:15.5px;letter-spacing:-0.5px;color:#111;-webkit-text-stroke:0.25px #111;'>8.7</div>
<div style='position:absolute;white-space:nowrap;line-height:1;font-family:"Liberation Serif",serif;left:577.10px;top:297.40px;font-size:15.5px;letter-spacing:-0.5px;color:#111;-webkit-text-stroke:0.25px #111;'>4.6</div>
<div style='position:absolute;white-space:nowrap;line-height:1;font-family:"Liberation Serif",serif;left:632.90px;top:297.40px;font-size:15.5px;letter-spacing:-0.5px;color:#111;-webkit-text-stroke:0.25px #111;'>1.2</div>
<div style='position:absolute;white-space:nowrap;line-height:1;font-family:"Liberation Serif",serif;left:31.00px;top:318.00px;font-size:16px;color:#1a1a1a;-webkit-text-stroke:0.2px #1a1a1a;'>1</div>
<div style='position:absolute;white-space:nowrap;line-height:1;font-family:"Liberation Serif",serif;left:50.27px;top:319.00px;font-size:13.5px;color:#1a1a1a;-webkit-text-stroke:0.3px #1a1a1a;'>차</div>
<div style='position:absolute;white-space:nowrap;line-height:1;font-family:"Liberation Serif",serif;left:70.96px;top:319.00px;font-size:13.5px;color:#1a1a1a;-webkit-text-stroke:0.3px #1a1a1a;'>금</div>
<div style='position:absolute;white-space:nowrap;line-height:1;font-family:"Liberation Serif",serif;left:92.15px;top:319.00px;font-size:13.5px;color:#1a1a1a;-webkit-text-stroke:0.3px #1a1a1a;'>속</div>
<div style='position:absolute;white-space:nowrap;line-height:1;font-family:"Liberation Serif",serif;left:113.34px;top:319.00px;font-size:13.5px;color:#1a1a1a;-webkit-text-stroke:0.3px #1a1a1a;'>제</div>
<div style='position:absolute;white-space:nowrap;line-height:1;font-family:"Liberation Serif",serif;left:133.60px;top:319.00px;font-size:13.5px;color:#1a1a1a;-webkit-text-stroke:0.3px #1a1a1a;'>품</div>
<div style='position:absolute;white-space:nowrap;line-height:1;font-family:"Liberation Serif",serif;left:184.30px;top:316.60px;font-size:15.5px;letter-spacing:-0.5px;color:#111;-webkit-text-stroke:0.25px #111;'>70.2</div>
<div style='position:absolute;white-space:nowrap;line-height:1;font-family:"Liberation Serif",serif;left:246.00px;top:316.60px;font-size:15.5px;letter-spacing:-0.5px;color:#111;-webkit-text-stroke:0.25px #111;'>0.8</div>
<div style='position:absolute;white-space:nowrap;line-height:1;font-family:"Liberation Serif",serif;left:301.70px;top:316.60px;font-size:15.5px;letter-spacing:-0.5px;color:#111;-webkit-text-stroke:0.25px #111;'>2.1</div>
<div style='position:absolute;white-space:nowrap;line-height:1;font-family:"Liberation Serif",serif;left:352.40px;top:316.60px;font-size:15.5px;letter-spacing:-0.5px;color:#111;-webkit-text-stroke:0.25px #111;'>-3.2</div>
<div style='position:absolute;white-space:nowrap;line-height:1;font-family:"Liberation Serif",serif;left:407.60px;top:316.60px;font-size:15.5px;letter-spacing:-0.5px;color:#111;-webkit-text-stroke:0.25px #111;'>-2.8</div>
<div style='position:absolute;white-space:nowrap;line-height:1;font-family:"Liberation Serif",serif;left:467.20px;top:316.60px;font-size:15.5px;letter-spacing:-0.5px;color:#111;-webkit-text-stroke:0.25px #111;'>9.5</div>
<div style='position:absolute;white-space:nowrap;line-height:1;font-family:"Liberation Serif",serif;left:515.60px;top:316.60px;font-size:15.5px;letter-spacing:-0.5px;color:#111;-webkit-text-stroke:0.25px #111;'>11.5</div>
<div style='position:absolute;white-space:nowrap;line-height:1;font-family:"Liberation Serif",serif;left:578.10px;top:316.60px;font-size:15.5px;letter-spacing:-0.5px;color:#111;-webkit-text-stroke:0.25px #111;'>1.5</div>
<div style='position:absolute;white-space:nowrap;line-height:1;font-family:"Liberation Serif",serif;left:627.90px;top:316.60px;font-size:15.5px;letter-spacing:-0.5px;color:#111;-webkit-text-stroke:0.25px #111;'>-3.3</div>
<div style='position:absolute;white-space:nowrap;line-height:1;font-family:"Liberation Serif",serif;left:30.30px;top:337.20px;font-size:13.5px;color:#1a1a1a;-webkit-text-stroke:0.3px #1a1a1a;transform:scaleX(0.78);transform-origin:0 0;letter-spacing:0.551px;'>컴퓨터·전자및광학기기</div>
<div style='position:absolute;white-space:nowrap;line-height:1;font-family:"Liberation Serif",serif;left:184.30px;top:335.40px;font-size:15.5px;letter-spacing:-0.5px;color:#111;-webkit-text-stroke:0.25px #111;'>93.1</div>
<div style='position:absolute;white-space:nowrap;line-height:1;font-family:"Liberation Serif",serif;left:241.00px;top:335.40px;font-size:15.5px;letter-spacing:-0.5px;color:#111;-webkit-text-stroke:0.25px #111;'>-4.8</div>
<div style='position:absolute;white-space:nowrap;line-height:1;font-family:"Liberation Serif",serif;left:300.70px;top:335.40px;font-size:15.5px;letter-spacing:-0.5px;color:#111;-webkit-text-stroke:0.25px #111;'>1.6</div>
<div style='position:absolute;white-space:nowrap;line-height:1;font-family:"Liberation Serif",serif;left:357.40px;top:335.40px;font-size:15.5px;letter-spacing:-0.5px;color:#111;-webkit-text-stroke:0.25px #111;'>0.8</div>
<div style='position:absolute;white-space:nowrap;line-height:1;font-family:"Liberation Serif",serif;left:407.60px;top:335.40px;font-size:15.5px;letter-spacing:-0.5px;color:#111;-webkit-text-stroke:0.25px #111;'>-3.0</div>
<div style='position:absolute;white-space:nowrap;line-height:1;font-family:"Liberation Serif",serif;left:463.20px;top:335.40px;font-size:15.5px;letter-spacing:-0.5px;color:#111;-webkit-text-stroke:0.25px #111;'>-0.1</div>
<div style='position:absolute;white-space:nowrap;line-height:1;font-family:"Liberation Serif",serif;left:522.60px;top:335.40px;font-size:15.5px;letter-spacing:-0.5px;color:#111;-webkit-text-stroke:0.25px #111;'>0.8</div>
<div style='position:absolute;white-space:nowrap;line-height:1;font-family:"Liberation Serif",serif;left:573.10px;top:335.40px;font-size:15.5px;letter-spacing:-0.5px;color:#111;-webkit-text-stroke:0.25px #111;'>-3.8</div>
<div style='position:absolute;white-space:nowrap;line-height:1;font-family:"Liberation Serif",serif;left:627.90px;top:335.40px;font-size:15.5px;letter-spacing:-0.5px;color:#111;-webkit-text-stroke:0.25px #111;'>-6.9</div>
<div style='position:absolute;white-space:nowrap;line-height:1;font-family:"Liberation Serif",serif;left:30.00px;top:357.80px;font-size:13.5px;color:#1a1a1a;-webkit-text-stroke:0.3px #1a1a1a;'>전</div>
<div style='position:absolute;white-space:nowrap;line-height:1;font-family:"Liberation Serif",serif;left:65.06px;top:357.80px;font-size:13.5px;color:#1a1a1a;-webkit-text-stroke:0.3px #1a1a1a;'>기</div>
<div style='position:absolute;white-space:nowrap;line-height:1;font-family:"Liberation Serif",serif;left:98.54px;top:357.80px;font-size:13.5px;color:#1a1a1a;-webkit-text-stroke:0.3px #1a1a1a;'>장</div>
<div style='position:absolute;white-space:nowrap;line-height:1;font-family:"Liberation Serif",serif;left:134.60px;top:357.80px;font-size:13.5px;color:#1a1a1a;-webkit-text-stroke:0.3px #1a1a1a;'>비</div>
<div style='position:absolute;white-space:nowrap;line-height:1;font-family:"Liberation Serif",serif;left:183.30px;top:354.80px;font-size:15.5px;letter-spacing:-0.5px;color:#111;-webkit-text-stroke:0.25px #111;'>32.8</div>
<div style='position:absolute;white-space:nowrap;line-height:1;font-family:"Liberation Serif",serif;left:241.00px;top:354.80px;font-size:15.5px;letter-spacing:-0.5px;color:#111;-webkit-text-stroke:0.25px #111;'>-2.4</div>
<div style='position:absolute;white-space:nowrap;line-height:1;font-family:"Liberation Serif",serif;left:296.70px;top:354.80px;font-size:15.5px;letter-spacing:-0.5px;color:#111;-webkit-text-stroke:0.25px #111;'>-0.9</div>
<div style='position:absolute;white-space:nowrap;line-height:1;font-family:"Liberation Serif",serif;left:353.40px;top:354.80px;font-size:15.5px;letter-spacing:-0.5px;color:#111;-webkit-text-stroke:0.25px #111;'>-3.1</div>
<div style='position:absolute;white-space:nowrap;line-height:1;font-family:"Liberation Serif",serif;left:408.60px;top:354.80px;font-size:15.5px;letter-spacing:-0.5px;color:#111;-webkit-text-stroke:0.25px #111;'>-3.1</div>
<div style='position:absolute;white-space:nowrap;line-height:1;font-family:"Liberation Serif",serif;left:467.20px;top:354.80px;font-size:15.5px;letter-spacing:-0.5px;color:#111;-webkit-text-stroke:0.25px #111;'>9.0</div>
<div style='position:absolute;white-space:nowrap;line-height:1;font-family:"Liberation Serif",serif;left:522.60px;top:354.80px;font-size:15.5px;letter-spacing:-0.5px;color:#111;-webkit-text-stroke:0.25px #111;'>8.0</div>
<div style='position:absolute;white-space:nowrap;line-height:1;font-family:"Liberation Serif",serif;left:578.10px;top:354.80px;font-size:15.5px;letter-spacing:-0.5px;color:#111;-webkit-text-stroke:0.25px #111;'>2.8</div>
<div style='position:absolute;white-space:nowrap;line-height:1;font-family:"Liberation Serif",serif;left:628.90px;top:354.80px;font-size:15.5px;letter-spacing:-0.5px;color:#111;-webkit-text-stroke:0.25px #111;'>-0.1</div>
<div style='position:absolute;white-space:nowrap;line-height:1;font-family:"Liberation Serif",serif;left:30.00px;top:376.70px;font-size:13.5px;color:#1a1a1a;-webkit-text-stroke:0.3px #1a1a1a;'>기</div>
<div style='position:absolute;white-space:nowrap;line-height:1;font-family:"Liberation Serif",serif;left:56.44px;top:376.70px;font-size:13.5px;color:#1a1a1a;-webkit-text-stroke:0.3px #1a1a1a;'>계</div>
<div style='position:absolute;white-space:nowrap;line-height:1;font-family:"Liberation Serif",serif;left:81.80px;top:376.70px;font-size:13.5px;color:#1a1a1a;-webkit-text-stroke:0.3px #1a1a1a;'>및</div>
<div style='position:absolute;white-space:nowrap;line-height:1;font-family:"Liberation Serif",serif;left:107.16px;top:376.70px;font-size:13.5px;color:#1a1a1a;-webkit-text-stroke:0.3px #1a1a1a;'>장</div>
<div style='position:absolute;white-space:nowrap;line-height:1;font-family:"Liberation Serif",serif;left:134.60px;top:376.70px;font-size:13.5px;color:#1a1a1a;-webkit-text-stroke:0.3px #1a1a1a;'>비</div>
<div style='position:absolute;white-space:nowrap;line-height:1;font-family:"Liberation Serif",serif;left:183.30px;top:374.20px;font-size:15.5px;letter-spacing:-0.5px;color:#111;-webkit-text-stroke:0.25px #111;'>14.0</div>
<div style='position:absolute;white-space:nowrap;line-height:1;font-family:"Liberation Serif",serif;left:246.00px;top:374.20px;font-size:15.5px;letter-spacing:-0.5px;color:#111;-webkit-text-stroke:0.25px #111;'>1.1</div>
<div style='position:absolute;white-space:nowrap;line-height:1;font-family:"Liberation Serif",serif;left:300.70px;top:374.20px;font-size:15.5px;letter-spacing:-0.5px;color:#111;-webkit-text-stroke:0.25px #111;'>2.6</div>
<div style='position:absolute;white-space:nowrap;line-height:1;font-family:"Liberation Serif",serif;left:357.40px;top:374.20px;font-size:15.5px;letter-spacing:-0.5px;color:#111;-webkit-text-stroke:0.25px #111;'>1.3</div>
<div style='position:absolute;white-space:nowrap;line-height:1;font-family:"Liberation Serif",serif;left:407.60px;top:374.20px;font-size:15.5px;letter-spacing:-0.5px;color:#111;-webkit-text-stroke:0.25px #111;'>-3.3</div>
<div style='position:absolute;white-space:nowrap;line-height:1;font-family:"Liberation Serif",serif;left:466.20px;top:374.20px;font-size:15.5px;letter-spacing:-0.5px;color:#111;-webkit-text-stroke:0.25px #111;'>9.7</div>
<div style='position:absolute;white-space:nowrap;line-height:1;font-family:"Liberation Serif",serif;left:514.60px;top:374.20px;font-size:15.5px;letter-spacing:-0.5px;color:#111;-webkit-text-stroke:0.25px #111;'>12.5</div>
<div style='position:absolute;white-space:nowrap;line-height:1;font-family:"Liberation Serif",serif;left:570.10px;top:374.20px;font-size:15.5px;letter-spacing:-0.5px;color:#111;-webkit-text-stroke:0.25px #111;'>12.6</div>
<div style='position:absolute;white-space:nowrap;line-height:1;font-family:"Liberation Serif",serif;left:632.90px;top:374.20px;font-size:15.5px;letter-spacing:-0.5px;color:#111;-webkit-text-stroke:0.25px #111;'>9.5</div>
<div style='position:absolute;white-space:nowrap;line-height:1;font-family:"Liberation Serif",serif;left:15.00px;top:403.50px;font-size:15.5px;color:#111;-webkit-text-stroke:0.2px #111;'>자</div>
<div style='position:absolute;white-space:nowrap;line-height:1;font-family:"Liberation Serif",serif;left:73.25px;top:403.50px;font-size:15.5px;color:#111;-webkit-text-stroke:0.2px #111;'>본</div>
<div style='position:absolute;white-space:nowrap;line-height:1;font-family:"Liberation Serif",serif;left:132.50px;top:403.50px;font-size:15.5px;color:#111;-webkit-text-stroke:0.2px #111;'>재</div>
<div style='position:absolute;white-space:nowrap;line-height:1;font-family:"Liberation Serif",serif;left:177.30px;top:404.10px;font-size:15.5px;letter-spacing:-0.5px;color:#111;-webkit-text-stroke:0.32px #111;'>130.1</div>
<div style='position:absolute;white-space:nowrap;line-height:1;font-family:"Liberation Serif",serif;left:246.10px;top:394.20px;font-size:15.5px;letter-spacing:-0.5px;color:#111;-webkit-text-stroke:0.32px #111;'>0.2</div>
<div style='position:absolute;white-space:nowrap;line-height:1;font-family:"Liberation Serif",serif;left:228.90px;top:413.50px;font-size:16px;letter-spacing:-0.6px;color:#111;-webkit-text-stroke:0.2px #111;'>&lt;0.1&gt;</div>
<div style='position:absolute;white-space:nowrap;line-height:1;font-family:"Liberation Serif",serif;left:301.80px;top:394.20px;font-size:15.5px;letter-spacing:-0.5px;color:#111;-webkit-text-stroke:0.32px #111;'>1.5</div>
<div style='position:absolute;white-space:nowrap;line-height:1;font-family:"Liberation Serif",serif;left:284.60px;top:413.50px;font-size:16px;letter-spacing:-0.6px;color:#111;-webkit-text-stroke:0.2px #111;'>&lt;0.0&gt;</div>
<div style='position:absolute;white-space:nowrap;line-height:1;font-family:"Liberation Serif",serif;left:357.50px;top:394.20px;font-size:15.5px;letter-spacing:-0.5px;color:#111;-webkit-text-stroke:0.32px #111;'>0.3</div>
<div style='position:absolute;white-space:nowrap;line-height:1;font-family:"Liberation Serif",serif;left:335.30px;top:413.50px;font-size:16px;letter-spacing:-0.6px;color:#111;-webkit-text-stroke:0.2px #111;'>&lt;-0.1&gt;</div>
<div style='position:absolute;white-space:nowrap;line-height:1;font-family:"Liberation Serif",serif;left:407.70px;top:394.20px;font-size:15.5px;letter-spacing:-0.5px;color:#111;-webkit-text-stroke:0.32px #111;'>-2.7</div>
<div style='position:absolute;white-space:nowrap;line-height:1;font-family:"Liberation Serif",serif;left:395.50px;top:413.50px;font-size:16px;letter-spacing:-0.6px;color:#111;-webkit-text-stroke:0.2px #111;'>&lt;0.0&gt;</div>
<div style='position:absolute;white-space:nowrap;line-height:1;font-family:"Liberation Serif",serif;left:467.30px;top:394.20px;font-size:15.5px;letter-spacing:-0.5px;color:#111;-webkit-text-stroke:0.32px #111;'>5.2</div>
<div style='position:absolute;white-space:nowrap;line-height:1;font-family:"Liberation Serif",serif;left:445.10px;top:413.50px;font-size:16px;letter-spacing:-0.6px;color:#111;-webkit-text-stroke:0.2px #111;'>&lt;-0.7&gt;</div>
<div style='position:absolute;white-space:nowrap;line-height:1;font-family:"Liberation Serif",serif;left:522.70px;top:394.20px;font-size:15.5px;letter-spacing:-0.5px;color:#111;-webkit-text-stroke:0.32px #111;'>6.8</div>
<div style='position:absolute;white-space:nowrap;line-height:1;font-family:"Liberation Serif",serif;left:500.50px;top:413.50px;font-size:16px;letter-spacing:-0.6px;color:#111;-webkit-text-stroke:0.2px #111;'>&lt;-0.6&gt;</div>
<div style='position:absolute;white-space:nowrap;line-height:1;font-family:"Liberation Serif",serif;left:578.20px;top:394.20px;font-size:15.5px;letter-spacing:-0.5px;color:#111;-webkit-text-stroke:0.32px #111;'>5.2</div>
<div style='position:absolute;white-space:nowrap;line-height:1;font-family:"Liberation Serif",serif;left:556.00px;top:413.50px;font-size:16px;letter-spacing:-0.6px;color:#111;-webkit-text-stroke:0.2px #111;'>&lt;-0.9&gt;</div>
<div style='position:absolute;white-space:nowrap;line-height:1;font-family:"Liberation Serif",serif;left:633.00px;top:394.20px;font-size:15.5px;letter-spacing:-0.5px;color:#111;-webkit-text-stroke:0.32px #111;'>2.5</div>
<div style='position:absolute;white-space:nowrap;line-height:1;font-family:"Liberation Serif",serif;left:610.80px;top:413.50px;font-size:16px;letter-spacing:-0.6px;color:#111;-webkit-text-stroke:0.2px #111;'>&lt;-0.9&gt;</div>
<div style='position:absolute;white-space:nowrap;line-height:1;font-family:"Liberation Serif",serif;left:15.00px;top:441.80px;font-size:15.5px;color:#111;-webkit-text-stroke:0.2px #111;'>소</div>
<div style='position:absolute;white-space:nowrap;line-height:1;font-family:"Liberation Serif",serif;left:73.75px;top:441.80px;font-size:15.5px;color:#111;-webkit-text-stroke:0.2px #111;'>비</div>
<div style='position:absolute;white-space:nowrap;line-height:1;font-family:"Liberation Serif",serif;left:132.50px;top:441.80px;font-size:15.5px;color:#111;-webkit-text-stroke:0.2px #111;'>재</div>
<div style='position:absolute;white-space:nowrap;line-height:1;font-family:"Liberation Serif",serif;left:176.30px;top:442.60px;font-size:15.5px;letter-spacing:-0.5px;color:#111;-webkit-text-stroke:0.32px #111;'>109.5</div>
<div style='position:absolute;white-space:nowrap;line-height:1;font-family:"Liberation Serif",serif;left:241.10px;top:433.30px;font-size:15.5px;letter-spacing:-0.5px;color:#111;-webkit-text-stroke:0.32px #111;'>-0.2</div>
<div style='position:absolute;white-space:nowrap;line-height:1;font-family:"Liberation Serif",serif;left:228.90px;top:452.60px;font-size:16px;letter-spacing:-0.6px;color:#111;-webkit-text-stroke:0.2px #111;'>&lt;0.2&gt;</div>
<div style='position:absolute;white-space:nowrap;line-height:1;font-family:"Liberation Serif",serif;left:301.80px;top:433.30px;font-size:15.5px;letter-spacing:-0.5px;color:#111;-webkit-text-stroke:0.32px #111;'>1.2</div>
<div style='position:absolute;white-space:nowrap;line-height:1;font-family:"Liberation Serif",serif;left:284.60px;top:452.60px;font-size:16px;letter-spacing:-0.6px;color:#111;-webkit-text-stroke:0.2px #111;'>&lt;0.4&gt;</div>
<div style='position:absolute;white-space:nowrap;line-height:1;font-family:"Liberation Serif",serif;left:352.50px;top:433.30px;font-size:15.5px;letter-spacing:-0.5px;color:#111;-webkit-text-stroke:0.32px #111;'>-0.3</div>
<div style='position:absolute;white-space:nowrap;line-height:1;font-family:"Liberation Serif",serif;left:340.30px;top:452.60px;font-size:16px;letter-spacing:-0.6px;color:#111;-webkit-text-stroke:0.2px #111;'>&lt;0.0&gt;</div>
<div style='position:absolute;white-space:nowrap;line-height:1;font-family:"Liberation Serif",serif;left:407.70px;top:433.30px;font-size:15.5px;letter-spacing:-0.5px;color:#111;-webkit-text-stroke:0.32px #111;'>-2.3</div>
<div style='position:absolute;white-space:nowrap;line-height:1;font-family:"Liberation Serif",serif;left:395.50px;top:452.60px;font-size:16px;letter-spacing:-0.6px;color:#111;-webkit-text-stroke:0.2px #111;'>&lt;0.1&gt;</div>
<div style='position:absolute;white-space:nowrap;line-height:1;font-family:"Liberation Serif",serif;left:467.30px;top:433.30px;font-size:15.5px;letter-spacing:-0.5px;color:#111;-webkit-text-stroke:0.32px #111;'>4.5</div>
<div style='position:absolute;white-space:nowrap;line-height:1;font-family:"Liberation Serif",serif;left:445.10px;top:452.60px;font-size:16px;letter-spacing:-0.6px;color:#111;-webkit-text-stroke:0.2px #111;'>&lt;-1.3&gt;</div>
<div style='position:absolute;white-space:nowrap;line-height:1;font-family:"Liberation Serif",serif;left:522.70px;top:433.30px;font-size:15.5px;letter-spacing:-0.5px;color:#111;-webkit-text-stroke:0.32px #111;'>6.1</div>
<div style='position:absolute;white-space:nowrap;line-height:1;font-family:"Liberation Serif",serif;left:500.50px;top:452.60px;font-size:16px;letter-spacing:-0.6px;color:#111;-webkit-text-stroke:0.2px #111;'>&lt;-0.7&gt;</div>
<div style='position:absolute;white-space:nowrap;line-height:1;font-family:"Liberation Serif",serif;left:578.20px;top:433.30px;font-size:15.5px;letter-spacing:-0.5px;color:#111;-webkit-text-stroke:0.32px #111;'>4.1</div>
<div style='position:absolute;white-space:nowrap;line-height:1;font-family:"Liberation Serif",serif;left:556.00px;top:452.60px;font-size:16px;letter-spacing:-0.6px;color:#111;-webkit-text-stroke:0.2px #111;'>&lt;-0.4&gt;</div>
<div style='position:absolute;white-space:nowrap;line-height:1;font-family:"Liberation Serif",serif;left:633.00px;top:433.30px;font-size:15.5px;letter-spacing:-0.5px;color:#111;-webkit-text-stroke:0.32px #111;'>2.1</div>
<div style='position:absolute;white-space:nowrap;line-height:1;font-family:"Liberation Serif",serif;left:615.80px;top:452.60px;font-size:16px;letter-spacing:-0.6px;color:#111;-webkit-text-stroke:0.2px #111;'>&lt;0.0&gt;</div>
<div style='position:absolute;white-space:nowrap;line-height:1;font-family:"Liberation Serif",serif;left:15.20px;top:473.50px;font-size:12.8px;color:#222;-webkit-text-stroke:0.15px #222;'>주</div>
<div style='position:absolute;white-space:nowrap;line-height:1;font-family:"Liberation Serif",serif;left:34.60px;top:472.00px;font-size:15px;color:#222;'>:</div>
<div style='position:absolute;white-space:nowrap;line-height:1;font-family:"Liberation Serif",serif;left:48.50px;top:473.10px;font-size:14px;color:#222;'>1)</div>
<div style='position:absolute;white-space:nowrap;line-height:1;font-family:"Liberation Serif",serif;left:66.40px;top:472.00px;font-size:15px;color:#222;'>&lt;</div>
<div style='position:absolute;white-space:nowrap;line-height:1;font-family:"Liberation Serif",serif;left:81.30px;top:472.00px;font-size:15px;color:#222;'>&gt;</div>
<div style='position:absolute;white-space:nowrap;line-height:1;font-family:"Liberation Serif",serif;left:90.50px;top:473.50px;font-size:12.8px;color:#222;-webkit-text-stroke:0.15px #222;letter-spacing:-1.500px;'>내는</div>
<div style='position:absolute;white-space:nowrap;line-height:1;font-family:"Liberation Serif",serif;left:120.60px;top:473.50px;font-size:12.8px;color:#222;-webkit-text-stroke:0.15px #222;letter-spacing:0.900px;'>계약통화기준임</div>
<div style='position:absolute;white-space:nowrap;line-height:1;font-family:"Liberation Serif",serif;left:49.50px;top:489.20px;font-size:14px;color:#222;'>2)</div>
<div style='position:absolute;white-space:nowrap;line-height:1;font-family:"Liberation Serif",serif;left:67.20px;top:490.20px;font-size:12.8px;color:#222;-webkit-text-stroke:0.15px #222;letter-spacing:0.200px;'>당월</div>
<div style='position:absolute;white-space:nowrap;line-height:1;font-family:"Liberation Serif",serif;left:100.80px;top:490.20px;font-size:12.8px;color:#222;-webkit-text-stroke:0.15px #222;letter-spacing:0.000px;'>지수는</div>
<div style='position:absolute;white-space:nowrap;line-height:1;font-family:"Liberation Serif",serif;left:148.40px;top:490.20px;font-size:12.8px;color:#222;-webkit-text-stroke:0.15px #222;letter-spacing:0.550px;'>잠정치</div>
<div style='position:absolute;white-space:nowrap;line-height:1;font-family:"Liberation Serif",serif;left:188.80px;top:487.70px;font-size:15px;color:#222;letter-spacing:-0.192px;'>(preliminary)</div>
<div style='position:absolute;white-space:nowrap;line-height:1;font-family:"Liberation Serif",serif;left:267.20px;top:490.20px;font-size:12.8px;color:#222;-webkit-text-stroke:0.15px #222;letter-spacing:1.200px;'>이며</div>
<div style='position:absolute;white-space:nowrap;line-height:1;font-family:"Liberation Serif",serif;left:302.00px;top:490.20px;font-size:12.8px;color:#222;-webkit-text-stroke:0.15px #222;letter-spacing:1.200px;'>익월</div>
<div style='position:absolute;white-space:nowrap;line-height:1;font-family:"Liberation Serif",serif;left:334.90px;top:490.20px;font-size:12.8px;color:#222;-webkit-text-stroke:0.15px #222;letter-spacing:1.300px;'>지수</div>
<div style='position:absolute;white-space:nowrap;line-height:1;font-family:"Liberation Serif",serif;left:368.40px;top:490.20px;font-size:12.8px;color:#222;-webkit-text-stroke:0.15px #222;letter-spacing:0.800px;'>공표시</div>
<div style='position:absolute;white-space:nowrap;line-height:1;font-family:"Liberation Serif",serif;left:415.50px;top:490.20px;font-size:12.8px;color:#222;-webkit-text-stroke:0.15px #222;letter-spacing:0.800px;'>확정됨</div>
</body></html>
